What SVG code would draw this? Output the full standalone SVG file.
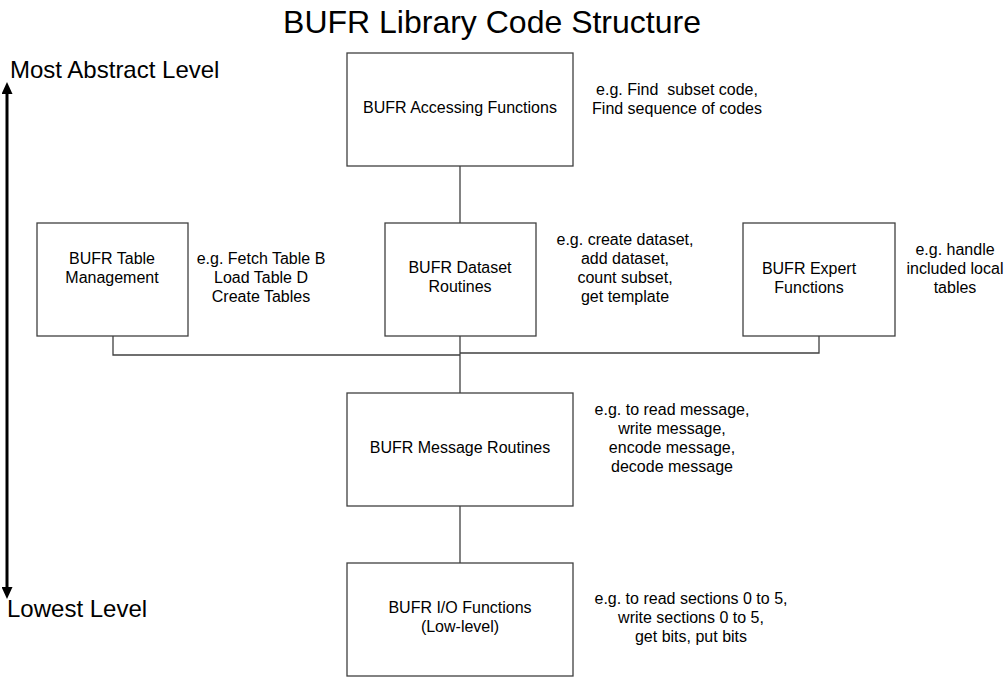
<svg xmlns="http://www.w3.org/2000/svg" width="1005" height="677" viewBox="0 0 1005 677">
<style>
text{font-family:"Liberation Sans",Arial,sans-serif;fill:#000}
.box{fill:#fff;stroke:#404040;stroke-width:1.3}
.lbl{font-size:16px;text-anchor:middle}
.ann{font-size:16px;text-anchor:middle}
.con{fill:none;stroke:#404040;stroke-width:1.3}
</style>
<defs>
<marker id="ah" viewBox="0 0 12 11" refX="1" refY="5.5" markerWidth="12" markerHeight="11" markerUnits="userSpaceOnUse" orient="auto-start-reverse">
<path d="M0,0 L12,5.5 L0,11 z" fill="#000"/>
</marker>
</defs>
<rect width="1005" height="677" fill="#fff"/>
<text x="492" y="33" style="font-size:32px;text-anchor:middle">BUFR Library Code Structure</text>
<g id="level-axis">
<line x1="7" y1="93" x2="7" y2="588" stroke="#000" stroke-width="3" marker-start="url(#ah)" marker-end="url(#ah)"/>
<text x="10" y="78" style="font-size:24px">Most Abstract Level</text>
<text x="7" y="617" style="font-size:24px">Lowest Level</text>
</g>
<g id="connectors">
<line class="con" x1="460" y1="166" x2="460" y2="223"/>
<line class="con" x1="460" y1="336" x2="460" y2="393"/>
<line class="con" x1="460" y1="506" x2="460" y2="563"/>
<polyline class="con" points="113,336 113,355 460,355"/>
<polyline class="con" points="460,353 819,353 819,336"/>
</g>
<g id="accessing">
<rect class="box" x="347" y="53" width="226" height="113"/>
<text class="lbl" x="460" y="113">BUFR Accessing Functions</text>
<text class="ann" x="677" y="95" xml:space="preserve" style="white-space:pre">e.g. Find  subset code,</text>
<text class="ann" x="677" y="114">Find sequence of codes</text>
</g>
<g id="table-management">
<rect class="box" x="37" y="223" width="151" height="113"/>
<text class="lbl" x="112" y="264">BUFR Table</text>
<text class="lbl" x="112" y="283">Management</text>
<text class="ann" x="261" y="264">e.g. Fetch Table B</text>
<text class="ann" x="261" y="283">Load Table D</text>
<text class="ann" x="261" y="302">Create Tables</text>
</g>
<g id="dataset">
<rect class="box" x="385" y="223" width="151" height="113"/>
<text class="lbl" x="460" y="273">BUFR Dataset</text>
<text class="lbl" x="460" y="292">Routines</text>
<text class="ann" x="625" y="245">e.g. create dataset,</text>
<text class="ann" x="625" y="264">add dataset,</text>
<text class="ann" x="625" y="283">count subset,</text>
<text class="ann" x="625" y="302">get template</text>
</g>
<g id="expert">
<rect class="box" x="743" y="223" width="152" height="113"/>
<text class="lbl" x="809" y="274">BUFR Expert</text>
<text class="lbl" x="809" y="293">Functions</text>
<text class="ann" x="955" y="255">e.g. handle</text>
<text class="ann" x="955" y="274">included local</text>
<text class="ann" x="955" y="293">tables</text>
</g>
<g id="message">
<rect class="box" x="347" y="393" width="226" height="113"/>
<text class="lbl" x="460" y="453">BUFR Message Routines</text>
<text class="ann" x="672" y="415">e.g. to read message,</text>
<text class="ann" x="672" y="434">write message,</text>
<text class="ann" x="672" y="453">encode message,</text>
<text class="ann" x="672" y="472">decode message</text>
</g>
<g id="io">
<rect class="box" x="347" y="563" width="226" height="113"/>
<text class="lbl" x="460" y="613">BUFR I/O Functions</text>
<text class="lbl" x="460" y="632">(Low-level)</text>
<text class="ann" x="691" y="604">e.g. to read sections 0 to 5,</text>
<text class="ann" x="691" y="623">write sections 0 to 5,</text>
<text class="ann" x="691" y="642">get bits, put bits</text>
</g>
</svg>
